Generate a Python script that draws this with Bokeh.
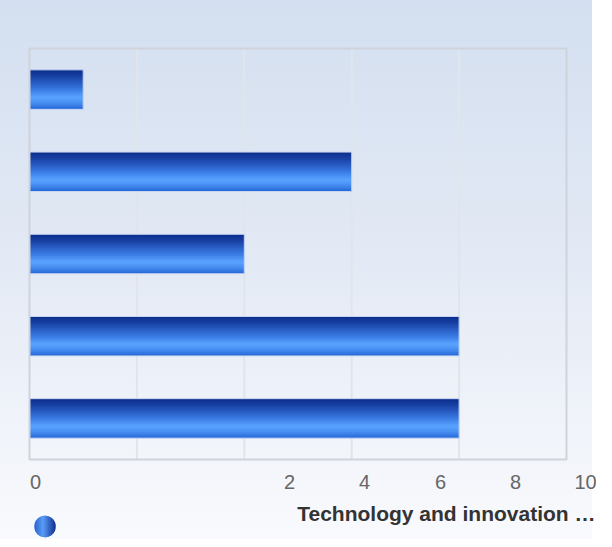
import numpy as np
from bokeh.plotting import figure
from bokeh.models import Range1d
from bokeh.core.properties import value
from bokeh.embed import file_html
from bokeh.resources import INLINE

# ---- data ----
categories = ["Item 1", "Item 2", "Item 3", "Item 4", "Item 5"]
values = [1, 6, 4, 8, 8]
tick_values = [0, 2, 4, 6, 8, 10]
tick_labels = ["0", "2", "4", "6", "8", "10"]
series_name = "Technology and innovation …"

# ---- layout (pixels, relative to the figure's top-left) ----
W, H = 596, 539
PL, PT, PR, PB = 29, 48, 30, 80          # plot-area margins
x0, x1 = tick_values[0], tick_values[-1]
n = len(categories)
ppx = (W - PL - PR) / (x1 - x0)           # pixels per x unit
ppy = (H - PT - PB) / n                   # pixels per category


def sx(px):   # figure pixel -> x data
    return x0 + (px - PL) / ppx


def sy(py):   # figure pixel (from top) -> y data (category index, 1 at top)
    return 0.5 + (py - PT) / ppy


p = figure(width=W, height=H, output_backend="svg", toolbar_location=None,
           x_range=Range1d(sx(0), sx(W)), y_range=Range1d(sy(H), sy(0)),
           min_border=0)
p.xaxis.visible = False
p.yaxis.visible = False
p.grid.visible = False
p.outline_line_color = None
p.border_fill_color = None
p.background_fill_color = None
p.styles = {
    "background": "linear-gradient(to bottom, #d3dff0 0%, #e4eaf5 50%, #f9fafd 100%) no-repeat",
    "background-size": "592px 100%",
}

# ---- plot area: grid lines ----
p.segment(x0=tick_values[1:-1], x1=tick_values[1:-1],
          y0=[0.5] * (len(tick_values) - 2), y1=[n + 0.5] * (len(tick_values) - 2),
          line_color="#e1e5eb", line_width=2)


def make_grad(stops):
    def grad(t):
        for (t0, c0), (t1, c1) in zip(stops[:-1], stops[1:]):
            if t0 <= t <= t1:
                f = (t - t0) / (t1 - t0)
                c = [int(round(a + (b - a) * f)) for a, b in zip(c0, c1)]
                return "#%02x%02x%02x" % tuple(c)
        return "#%02x%02x%02x" % stops[-1][1]
    return grad


# ---- gradient bars (sliced) ----
bar_grad = make_grad([(0.0, (11, 45, 140)), (0.15, (22, 62, 160)),
                      (0.5, (58, 122, 228)), (0.7, (90, 164, 255)),
                      (0.85, (70, 140, 240)), (1.0, (34, 100, 212))])
pos = np.arange(1, n + 1)
bar_h = 0.48
N = 20
for k in range(N):
    t = (k + 0.5) / N
    top = pos - bar_h / 2 + k * bar_h / N
    bot = pos - bar_h / 2 + min(k + 1.8, N) * bar_h / N
    p.quad(left=0, right=values, top=top, bottom=bot,
           fill_color=bar_grad(t), line_color=None)
p.quad(left=0, right=values, top=pos - bar_h / 2, bottom=pos + bar_h / 2,
       fill_color=None, line_color="#c9d6f2", line_width=1)

# border of the plot area
p.quad(left=[x0], right=[x1], top=[0.5], bottom=[n + 0.5], fill_color=None,
       line_color="#cfd3db", line_width=2)

# ---- tick labels (placed as in the reference) ----
tick_label_px = [35, 289, 364, 440, 515, 585]
p.text(x=[sx(v) for v in tick_label_px], y=[sy(481.5)] * len(tick_labels),
       text=tick_labels, text_align="center", text_baseline="middle",
       text_font=value("Liberation Sans"), text_font_size="20px",
       text_color="#666666")

# ---- series name / legend ----
p.text(x=[sx(595)], y=[sy(513)], text=[series_name], text_align="right",
       text_baseline="middle", text_font=value("Liberation Sans"),
       text_font_size="21px", text_font_style="bold", text_color="#333333")

# legend marker: circle with a horizontal gradient, drawn as vertical strips
circ_grad = make_grad([(0.0, (40, 98, 208)), (0.4, (90, 156, 248)),
                       (1.0, (15, 46, 142))])
cx, cy, r = 44.5, 526.0, 10.75
M = 14
xs, ys, cols = [], [], []
for i in range(M):
    a = -r + i * 2 * r / M
    b = min(-r + (i + 1.6) * 2 * r / M, r)
    u = np.linspace(a, b, 8)
    h = np.sqrt(np.clip(r * r - u * u, 0, None))
    px = np.concatenate([u, u[::-1]]) + cx
    py = np.concatenate([cy - h, (cy + h)[::-1]])
    xs.append([sx(v) for v in px])
    ys.append([sy(v) for v in py])
    cols.append(circ_grad((i + 0.5) / M))
p.patches(xs=xs, ys=ys, fill_color=cols, line_color=None)

open("out.html", "w").write(file_html(p, INLINE))
